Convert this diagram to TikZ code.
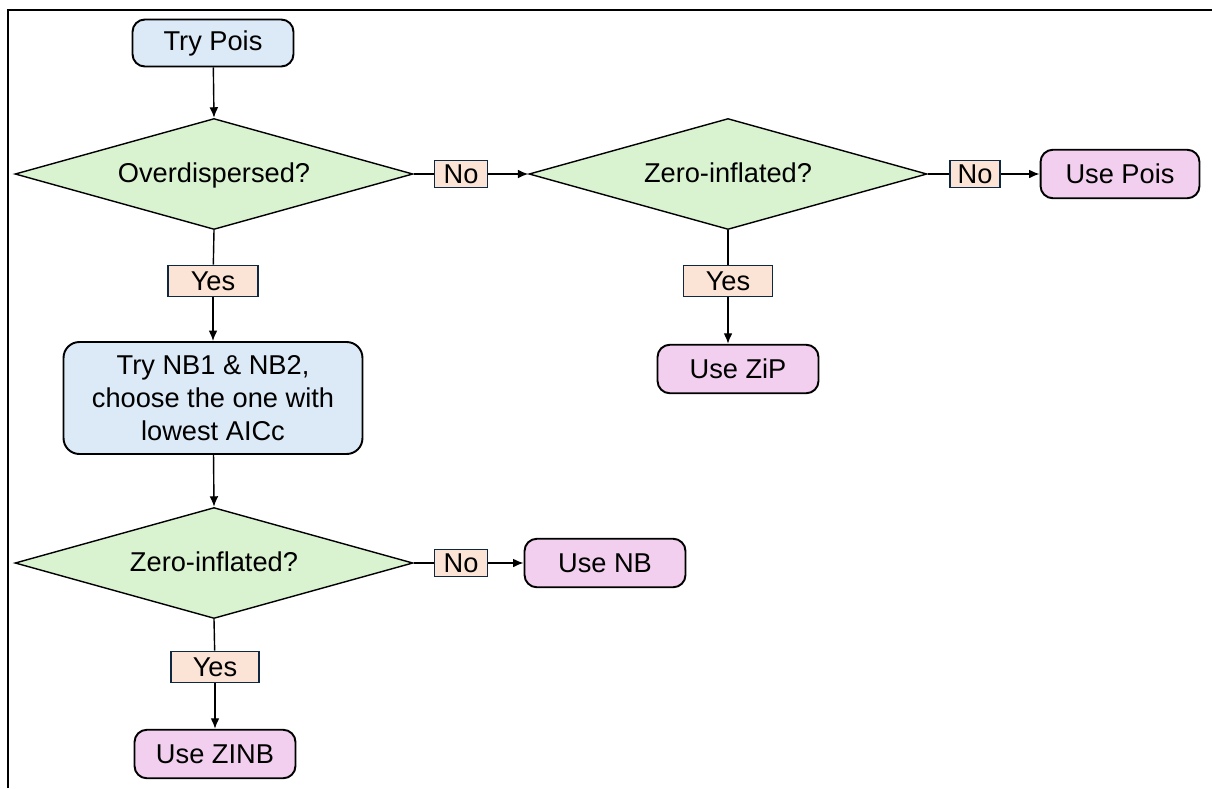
\documentclass[tikz,border=0pt]{standalone}
\usepackage{fontspec}
\setmainfont{Liberation Sans}
\usetikzlibrary{arrows.meta, shapes.geometric}

\definecolor{stepblue}{HTML}{DCE9F6}
\definecolor{askgreen}{HTML}{D9F2D0}
\definecolor{usepink}{HTML}{F2CFEE}
\definecolor{tagpeach}{HTML}{FBE3D6}
\definecolor{tagline}{HTML}{0E2841}

\tikzset{
	every node/.style={font=\fontsize{15.5}{19}\selectfont},
	trybox/.style={draw, line width=1.1pt, rounded corners=7pt, fill=stepblue, minimum width=3.22cm, minimum height=0.94cm, align=center},
	usebox/.style={draw, line width=1.1pt, rounded corners=7pt, fill=usepink, minimum width=3.22cm, minimum height=0.97cm},
	askbox/.style={draw, line width=0.8pt, diamond, aspect=3.6, inner sep=0pt, fill=askgreen, minimum width=7.96cm, minimum height=2.22cm, text height=1em, text depth=0pt},
	tagbox/.style={draw=tagline, line width=0.9pt, fill=tagpeach, inner sep=0pt, minimum height=0.62cm},
	flow/.style={line width=0.8pt, -{Latex[length=6pt, width=5pt]}}
}

\begin{document}
\begin{tikzpicture}[x=0.02cm, y=-0.02cm]
	\useasboundingbox (0,0) rectangle (1212,788);
	%frame
	\draw[line width=1.1pt] (8,788) -- (8,10) -- (1212,10);
	%left column
	\node[trybox] (trypois) at (213,43) {Try Pois};
	\node[askbox] (overdisp) at (214,174) {Overdispersed?};
	\node[tagbox, minimum width=1.8cm] (yesover) at (213,281) {Yes};
	\node[trybox, minimum width=5.98cm, minimum height=2.24cm, rounded corners=9pt] (trynb) at (213,398) {Try NB1 \& NB2,\\choose the one with\\lowest AICc};
	\node[askbox] (zeronb) at (214,563) {Zero-inflated?};
	\node[tagbox, minimum width=1.77cm] (yesnb) at (215,667) {Yes};
	\node[usebox] (usezinb) at (215,754) {Use ZINB};
	\node[tagbox, minimum width=1.06cm, minimum height=0.54cm] (nonb) at (461,563) {No};
	\node[usebox] (usenb) at (605,563) {Use NB};
	%right column
	\node[tagbox, minimum width=1.06cm, minimum height=0.54cm] (noover) at (461,174) {No};
	\node[askbox] (zeropois) at (728,174) {Zero-inflated?};
	\node[tagbox, minimum width=1.0cm, minimum height=0.54cm] (nopois) at (975,174) {No};
	\node[usebox, minimum width=3.18cm] (usepois) at (1120,174) {Use Pois};
	\node[tagbox, minimum width=1.78cm] (yespois) at (728,281) {Yes};
	\node[usebox] (usezip) at (738,369) {Use ZiP};
	%connectors
	\draw[flow] (trypois) -- (overdisp.north);
	\draw[line width=0.8pt] (overdisp.east) -- (noover);
	\draw[flow] (noover) -- (zeropois.west);
	\draw[line width=0.8pt] (zeropois.east) -- (nopois);
	\draw[flow] (nopois) -- (usepois);
	\draw[line width=0.8pt] (zeropois.south) -- (yespois);
	\draw[flow] (yespois) -- (yespois |- usezip.north);
	\draw[line width=0.8pt] (overdisp.south) -- (yesover);
	\draw[flow] (yesover) -- (trynb);
	\draw[flow] (trynb) -- (zeronb.north);
	\draw[line width=0.8pt] (zeronb.east) -- (nonb);
	\draw[flow] (nonb) -- (usenb);
	\draw[line width=0.8pt] (zeronb.south) -- (yesnb);
	\draw[flow] (yesnb) -- (usezinb);
\end{tikzpicture}
\end{document}
